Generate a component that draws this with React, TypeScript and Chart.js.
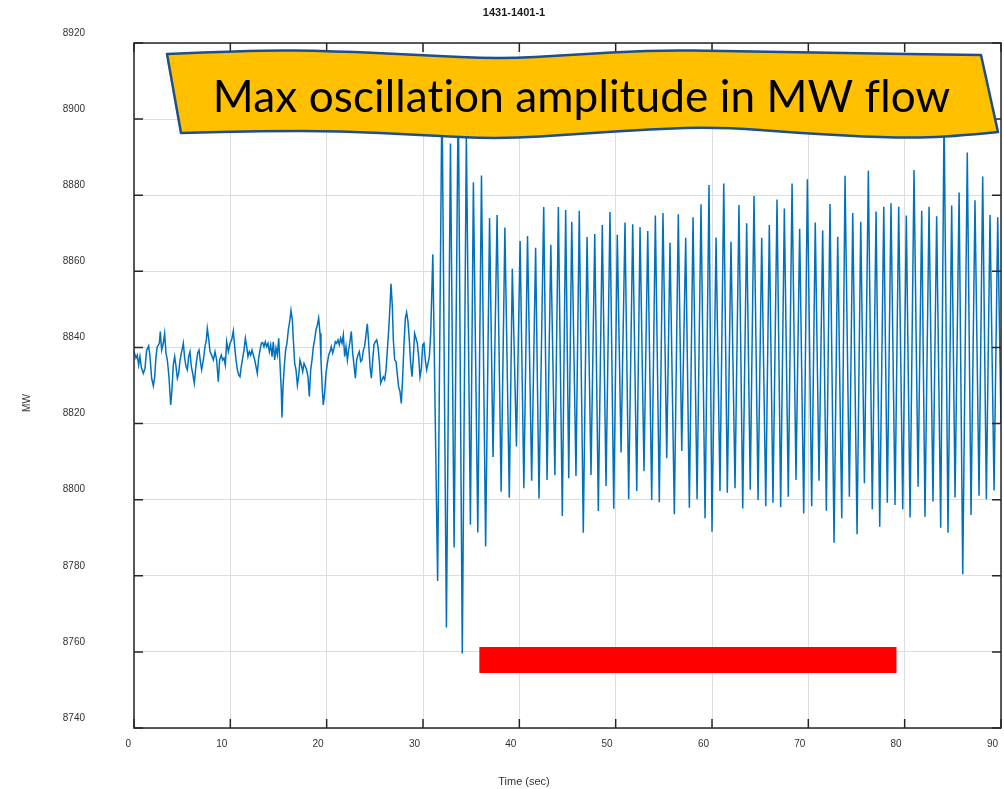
import { useEffect, useRef } from "react";
import { Chart, registerables } from "chart.js";

Chart.register(...registerables);

const chartTitle = "1431-1401-1";
const xTitle = "Time (sec)";
const yTitle = "MW";
const calloutText = "Max oscillation amplitude in MW flow";

const xTicks = [0, 10, 20, 30, 40, 50, 60, 70, 80, 90];
const yTicks = [8740, 8760, 8780, 8800, 8820, 8840, 8860, 8880, 8900, 8920];

// Pre-disturbance measurements (sec, MW)
const calmTime = [
  0.0, 0.21, 0.35, 0.48, 0.62, 0.76, 0.97, 1.14, 1.31, 1.52, 1.66, 1.83, 2.01, 2.15, 2.28, 2.42, 2.63, 2.73, 2.87, 3.04,
  3.18, 3.32, 3.46, 3.63, 3.81, 3.94, 4.08, 4.22, 4.36, 4.5, 4.64, 4.78, 4.95, 5.12, 5.26, 5.4, 5.54, 5.67, 5.81, 5.95,
  6.09, 6.26, 6.44, 6.61, 6.75, 6.89, 7.02, 7.2, 7.37, 7.51, 7.61, 7.75, 7.89, 8.06, 8.24, 8.41, 8.58, 8.75, 8.89, 9.07,
  9.2, 9.34, 9.48, 9.62, 9.79, 9.97, 10.14, 10.31, 10.45, 10.59, 10.73, 10.87, 11.0, 11.14, 11.28, 11.42, 11.56, 11.7,
  11.83, 11.97, 12.11, 12.25, 12.39, 12.53, 12.66, 12.8, 12.94, 13.08, 13.22, 13.36, 13.49, 13.63, 13.77, 13.91, 14.05,
  14.19, 14.33, 14.46, 14.6, 14.74, 14.88, 15.02, 15.16, 15.29, 15.36, 15.47, 15.61, 15.74, 15.88, 16.02, 16.16, 16.3,
  16.44, 16.54, 16.68, 16.82, 16.96, 17.09, 17.23, 17.37, 17.51, 17.65, 17.79, 17.92, 18.06, 18.2, 18.34, 18.48, 18.62,
  18.75, 18.89, 19.03, 19.17, 19.31, 19.41, 19.55, 19.65, 19.79, 19.93, 20.07, 20.21, 20.35, 20.48, 20.62, 20.76, 20.9,
  21.04, 21.18, 21.31, 21.45, 21.59, 21.73, 21.87, 22.01, 22.15, 22.28, 22.42, 22.56, 22.7, 22.84, 22.98, 23.11, 23.25,
  23.39, 23.53, 23.67, 23.81, 23.94, 24.08, 24.22, 24.36, 24.5, 24.64, 24.78, 24.91, 25.05, 25.19, 25.33, 25.47, 25.61,
  25.74, 25.88, 26.02, 26.16, 26.3, 26.44, 26.57, 26.68, 26.82, 26.92, 27.06, 27.2, 27.34, 27.47, 27.61, 27.75, 27.89,
  28.03, 28.17, 28.3, 28.44, 28.58, 28.72, 28.86, 29.0, 29.13, 29.27, 29.41, 29.55, 29.69, 29.83, 29.97, 30.1, 30.24,
  30.38, 30.52, 30.66, 30.8,
];
const calmMW = [
  8838.9, 8837.2, 8838.0, 8835.4, 8837.6, 8834.8, 8833.2, 8834.5, 8839.3, 8840.4, 8837.6, 8831.9, 8829.9, 8832.3, 8837.6,
  8840.2, 8841.1, 8844.2, 8839.3, 8841.1, 8843.7, 8838.5, 8836.7, 8832.3, 8824.9, 8828.8, 8835.4, 8837.6, 8835.0, 8831.9,
  8833.2, 8836.7, 8838.9, 8841.1, 8837.2, 8835.0, 8834.1, 8837.6, 8838.9, 8835.0, 8833.2, 8830.6, 8835.4, 8838.5, 8839.3,
  8836.3, 8834.1, 8836.7, 8840.2, 8842.0, 8845.0, 8842.4, 8838.9, 8838.0, 8836.7, 8838.9, 8836.7, 8831.0, 8836.7, 8838.0,
  8836.7, 8837.2, 8835.4, 8841.5, 8838.9, 8841.1, 8842.0, 8844.3, 8840.2, 8836.7, 8834.1, 8832.8, 8832.3, 8835.0, 8837.2,
  8839.3, 8842.4, 8840.2, 8837.6, 8838.9, 8838.0, 8839.3, 8838.0, 8836.7, 8835.0, 8833.2, 8837.2, 8839.3, 8841.1, 8841.3,
  8840.2, 8841.5, 8840.2, 8841.1, 8838.9, 8840.7, 8837.6, 8841.5, 8836.7, 8839.8, 8838.0, 8842.4, 8835.4, 8828.8, 8821.6,
  8829.7, 8835.4, 8839.3, 8841.1, 8844.6, 8846.8, 8849.7, 8847.2, 8842.0, 8835.8, 8834.1, 8830.1, 8832.3, 8836.7, 8835.4,
  8833.6, 8835.8, 8835.0, 8834.1, 8832.3, 8827.1, 8834.1, 8836.7, 8840.2, 8842.0, 8844.6, 8845.9, 8847.7, 8843.7, 8836.7,
  8828.8, 8824.9, 8828.0, 8833.2, 8835.8, 8838.0, 8838.9, 8840.2, 8838.5, 8839.8, 8841.5, 8841.1, 8842.0, 8840.7, 8842.4,
  8841.1, 8843.3, 8837.6, 8840.2, 8836.7, 8839.3, 8841.5, 8844.2, 8838.5, 8835.4, 8831.9, 8836.7, 8838.0, 8838.9, 8836.3,
  8836.7, 8839.3, 8840.2, 8843.3, 8846.2, 8841.1, 8835.0, 8831.9, 8836.7, 8840.7, 8841.5, 8842.0, 8840.2, 8836.3, 8830.6,
  8831.5, 8832.3, 8831.5, 8834.1, 8839.3, 8844.6, 8850.7, 8856.7, 8850.7, 8842.0, 8836.7, 8836.3, 8832.8, 8829.7, 8828.4,
  8825.3, 8832.3, 8841.1, 8847.7, 8849.2, 8846.8, 8842.0, 8835.8, 8832.3, 8837.6, 8843.7, 8842.4, 8841.1, 8837.6, 8832.3,
  8834.5, 8840.7, 8841.1, 8836.7, 8834.1, 8835.8, 8837.6, 8843.7,
];

// Oscillation after the disturbance: successive peaks and troughs (sec, MW)
const swingTime = [
  31.02, 31.52, 31.97, 32.43, 32.85, 33.23, 33.66, 34.08, 34.5, 34.92, 35.23, 35.69, 36.07, 36.5, 36.91, 37.27, 37.69,
  38.11, 38.5, 38.96, 39.27, 39.7, 40.08, 40.47, 40.85, 41.28, 41.69, 42.04, 42.53, 42.88, 43.27, 43.69, 44.05, 44.46,
  44.81, 45.13, 45.44, 45.88, 46.22, 46.64, 47.03, 47.44, 47.83, 48.2, 48.61, 49.0, 49.41, 49.8, 50.17, 50.56, 50.97,
  51.35, 51.77, 52.19, 52.53, 52.94, 53.33, 53.74, 54.12, 54.53, 54.91, 55.3, 55.64, 56.09, 56.5, 56.86, 57.27, 57.65,
  58.03, 58.45, 58.86, 59.28, 59.69, 60.0, 60.42, 60.83, 61.22, 61.59, 61.97, 62.39, 62.8, 63.19, 63.6, 63.97, 64.36,
  64.78, 65.16, 65.58, 65.95, 66.33, 66.75, 67.13, 67.51, 67.92, 68.31, 68.72, 69.1, 69.52, 69.9, 70.35, 70.72, 71.11,
  71.49, 71.87, 72.25, 72.67, 73.05, 73.47, 73.81, 74.26, 74.61, 75.06, 75.44, 75.82, 76.23, 76.64, 77.03, 77.41, 77.83,
  78.2, 78.58, 79.0, 79.38, 79.8, 80.17, 80.56, 80.97, 81.39, 81.77, 82.11, 82.53, 82.94, 83.32, 83.74, 84.09, 84.5,
  84.88, 85.23, 85.65, 86.03, 86.5, 86.89, 87.3, 87.72, 88.1, 88.48, 88.86, 89.28, 89.66, 90.0,
];
const swingMW = [
  8864.5, 8778.6, 8908.0, 8766.4, 8893.6, 8787.4, 8908.0, 8759.6, 8896.0, 8793.4, 8883.4, 8791.4, 8885.2, 8787.7, 8874.0,
  8811.2, 8874.8, 8802.1, 8871.5, 8800.5, 8860.7, 8814.0, 8868.0, 8803.0, 8869.3, 8805.0, 8866.2, 8800.3, 8876.9, 8805.2,
  8867.0, 8806.4, 8876.9, 8795.7, 8876.1, 8805.6, 8873.0, 8806.2, 8875.9, 8791.3, 8869.0, 8806.5, 8869.8, 8797.0, 8872.2,
  8803.6, 8875.6, 8797.6, 8869.6, 8812.4, 8872.8, 8800.1, 8872.4, 8802.3, 8871.6, 8807.5, 8870.6, 8799.9, 8874.7, 8799.3,
  8875.3, 8810.9, 8867.5, 8796.2, 8875.0, 8812.8, 8868.8, 8797.9, 8874.2, 8800.1, 8877.6, 8795.1, 8882.7, 8791.6, 8868.9,
  8802.3, 8883.1, 8801.8, 8867.8, 8803.0, 8877.4, 8797.7, 8872.6, 8802.6, 8879.8, 8799.9, 8868.8, 8798.3, 8872.2, 8799.2,
  8878.9, 8798.0, 8876.5, 8800.8, 8883.1, 8805.2, 8871.2, 8796.4, 8884.2, 8798.3, 8872.8, 8805.0, 8870.7, 8797.1, 8877.7,
  8788.7, 8869.1, 8795.1, 8885.1, 8800.8, 8875.3, 8790.9, 8873.0, 8804.3, 8886.4, 8797.5, 8875.7, 8792.9, 8877.0, 8799.2,
  8877.9, 8798.6, 8877.0, 8797.5, 8874.7, 8795.3, 8886.6, 8803.4, 8875.9, 8795.5, 8877.0, 8799.5, 8874.5, 8792.6, 8902.0,
  8791.3, 8877.3, 8800.6, 8880.7, 8780.4, 8891.2, 8796.0, 8878.7, 8801.0, 8884.9, 8800.1, 8874.8, 8802.4, 8874.2, 8820.0,
];

// Highlighted window of maximum oscillation amplitude
const bandTime = [35.85, 79.15];
const bandMW = [8757.9, 8757.9];

const FONT = '"Liberation Sans", Arial, Helvetica, sans-serif';

// Wavy callout outline (canvas pixels)
const calloutTop: [number, number][] = [
  [167, 54], [253, 50], [333, 51], [420, 55], [500, 59], [570, 55], [653, 50], [733, 51], [833, 53], [981, 55],
];
const calloutBottom: [number, number][] = [
  [998, 132], [950, 137], [890, 138], [800, 133], [720, 127], [650, 129], [580, 134], [500, 139], [420, 135],
  [340, 131], [260, 131], [181, 133],
];

function smoothThrough(ctx: CanvasRenderingContext2D, pts: [number, number][], first: boolean) {
  if (first) ctx.moveTo(pts[0][0], pts[0][1]);
  else ctx.lineTo(pts[0][0], pts[0][1]);
  for (let i = 1; i < pts.length - 1; i++) {
    const mx = (pts[i][0] + pts[i + 1][0]) / 2;
    const my = (pts[i][1] + pts[i + 1][1]) / 2;
    ctx.quadraticCurveTo(pts[i][0], pts[i][1], mx, my);
  }
  const last = pts[pts.length - 1];
  ctx.lineTo(last[0], last[1]);
}

const framePlugin = {
  id: "frameAndLabels",
  afterDatasetsDraw(chart: any) {
    const { ctx, chartArea: a, scales } = chart;
    ctx.save();
    ctx.strokeStyle = "#262626";
    ctx.lineWidth = 1.5;
    ctx.strokeRect(a.left, a.top, a.right - a.left, a.bottom - a.top);
    ctx.beginPath();
    for (const v of xTicks) {
      const px = scales.x.getPixelForValue(v);
      ctx.moveTo(px, a.bottom);
      ctx.lineTo(px, a.bottom - 9);
      ctx.moveTo(px, a.top);
      ctx.lineTo(px, a.top + 9);
    }
    for (const v of yTicks) {
      const py = scales.y.getPixelForValue(v);
      ctx.moveTo(a.left, py);
      ctx.lineTo(a.left + 9, py);
      ctx.moveTo(a.right, py);
      ctx.lineTo(a.right - 9, py);
    }
    ctx.stroke();
    ctx.restore();
  },
  afterDraw(chart: any) {
    const { ctx } = chart;
    ctx.save();
    // titles
    ctx.fillStyle = "#1a1a1a";
    ctx.font = `bold 11px ${FONT}`;
    ctx.textAlign = "center";
    ctx.textBaseline = "middle";
    ctx.fillText(chartTitle, 514, 13);
    ctx.fillStyle = "#333";
    ctx.font = `11px ${FONT}`;
    ctx.fillText(xTitle, 524, 782);
    ctx.save();
    ctx.translate(27, 403);
    ctx.rotate(-Math.PI / 2);
    ctx.font = `10px ${FONT}`;
    ctx.fillText(yTitle, 0, 0);
    ctx.restore();

    // callout banner
    ctx.beginPath();
    smoothThrough(ctx, calloutTop, true);
    smoothThrough(ctx, calloutBottom, false);
    ctx.closePath();
    ctx.fillStyle = "#FFC000";
    ctx.fill();
    ctx.lineWidth = 2.5;
    ctx.lineJoin = "round";
    ctx.strokeStyle = "#1F4E8C";
    ctx.stroke();

    ctx.fillStyle = "#000";
    // plain glyphs, no "ti" ligature
    (ctx as any).textRendering = "optimizeSpeed";
    (ctx as any).letterSpacing = "0.1px";
    ctx.font = `48px Lato, "Open Sans", sans-serif`;
    const w = ctx.measureText(calloutText).width;
    const size = (48 * 737) / w;
    ctx.font = `${size.toFixed(2)}px Lato, "Open Sans", sans-serif`;
    ctx.textAlign = "center";
    ctx.textBaseline = "alphabetic";
    ctx.fillText(calloutText, 581.5, 112);
    ctx.restore();
  },
};

export default function App() {
  const canvasRef = useRef<HTMLCanvasElement | null>(null);

  useEffect(() => {
    const canvas = canvasRef.current;
    if (!canvas) return;

    const flow = calmTime
      .map((t, i) => ({ x: t, y: calmMW[i] }))
      .concat(swingTime.map((t, i) => ({ x: t, y: swingMW[i] })));
    const band = bandTime.map((t, i) => ({ x: t, y: bandMW[i] }));

    const chart = new Chart(canvas, {
      type: "line",
      data: {
        datasets: [
          {
            label: "MW",
            data: flow,
            borderColor: "#0072BD",
            borderWidth: 1.5,
            pointRadius: 0,
            tension: 0,
            fill: false,
          },
          {
            label: "window",
            data: band,
            borderColor: "#FF0000",
            borderWidth: 26,
            borderCapStyle: "butt",
            pointRadius: 0,
            fill: false,
          },
        ],
      },
      options: {
        responsive: false,
        animation: false,
        layout: { autoPadding: false, padding: { left: 0, right: 3, top: 43, bottom: 0 } },
        plugins: {
          legend: { display: false },
          title: { display: false },
          tooltip: { enabled: false },
        },
        scales: {
          x: {
            type: "linear",
            min: 0,
            max: 90,
            afterFit: (s: any) => {
              s.height = 61;
              s.paddingLeft = 0;
              s.paddingRight = 0;
            },
            afterBuildTicks: (s: any) => {
              s.ticks = xTicks.map((v) => ({ value: v }));
            },
            grid: { color: "#dedede", lineWidth: 1, drawTicks: false },
            border: { display: false },
            ticks: {
              color: "#333",
              font: { family: FONT, size: 10 },
              padding: 10,
              align: "end",
              labelOffset: -3,
              maxRotation: 0,
              autoSkip: false,
            },
          },
          y: {
            type: "linear",
            min: 8740,
            max: 8920,
            afterFit: (s: any) => {
              s.width = 134;
              s.paddingTop = 0;
              s.paddingBottom = 0;
            },
            afterBuildTicks: (s: any) => {
              s.ticks = yTicks.map((v) => ({ value: v }));
            },
            grid: { color: "#dedede", lineWidth: 1, drawTicks: false },
            border: { display: false },
            ticks: {
              color: "#333",
              font: { family: FONT, size: 10 },
              padding: 49,
              labelOffset: -10,
              autoSkip: false,
              callback: (v: any) => String(v),
            },
          },
        },
      },
      plugins: [framePlugin],
    } as any);

    return () => chart.destroy();
  }, []);

  return (
    <div style={{ position: "absolute", left: 0, top: 0, width: 1004, height: 789, background: "#fff" }}>
      <canvas ref={canvasRef} width={1004} height={789} style={{ display: "block" }} />
    </div>
  );
}
